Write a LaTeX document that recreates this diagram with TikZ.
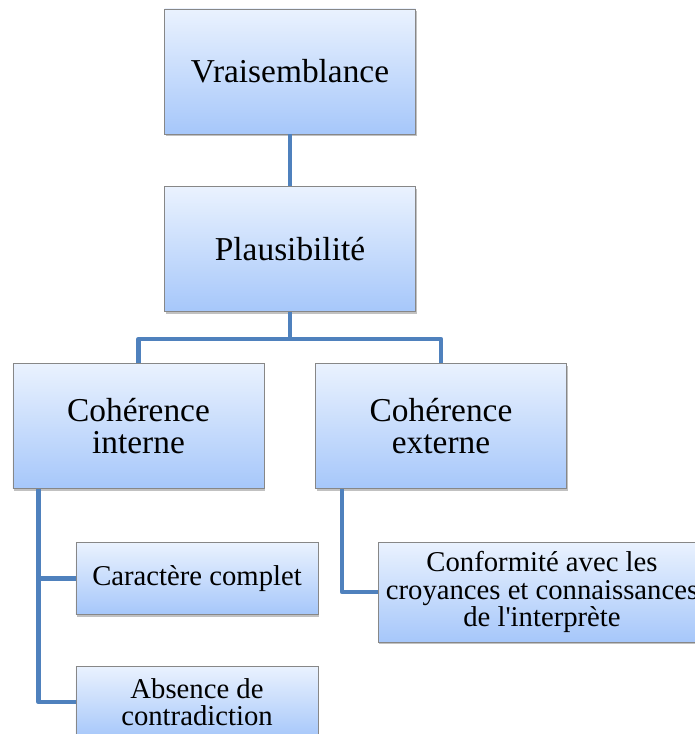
\documentclass[tikz,border=0pt]{standalone}
\usepackage{fontspec}
\setmainfont{Liberation Serif}
\usetikzlibrary{shadows,calc}
\definecolor{boxtop}{RGB}{234,242,254}
\definecolor{boxbot}{RGB}{166,199,250}
\definecolor{boxline}{RGB}{135,135,135}
\definecolor{conn}{RGB}{79,129,189}
\tikzset{
  box/.style={draw=boxline, line width=0.8bp, top color=boxtop, bottom color=boxbot,
    inner sep=0pt, align=center, text=black,
    drop shadow={shadow xshift=1.2bp, shadow yshift=-2.2bp, opacity=0.35, fill=black!70}},
  bigbox/.style={box, minimum width=251bp, minimum height=125bp, font=\fontsize{33.5}{32.5}\selectfont},
  smallbox/.style={box, minimum width=242bp, minimum height=72bp, font=\fontsize{28.8}{27.5}\selectfont},
  wide/.style={box, minimum width=328bp, minimum height=100bp, font=\fontsize{28.8}{27.5}\selectfont},
  link/.style={draw=conn, line width=4.6bp, line join=round}
}
\begin{document}
\begin{tikzpicture}[x=1bp,y=-1bp]
\useasboundingbox (0,0) rectangle (695,734);
\clip (0,0) rectangle (695,734);
\node[bigbox] (v) at (290,71.5) {Vraisemblance};
\node[bigbox] (p) at (290,249) {Plausibilité};
\node[bigbox] (ci) at (138.5,426) {Cohérence\\interne};
\node[bigbox] (ce) at (441,426) {Cohérence\\externe};
\node[smallbox] (cc) at (197,578.5) {Caractère complet};
\node[smallbox] (ab) at (197,702) {Absence de\\contradiction};
\node[wide] (cf) at (542,592) {Conformité avec les\\croyances et connaissances\\de l\textquotesingle interprète};
\coordinate (j) at (290,339);
\draw[link] (v.south) -- (p.north);
\draw[link] (p.south) -- (j);
\draw[link] (ci.north) |- (j) -| (ce.north);
\draw[link] ([xshift=26bp]ci.south west) |- (cc.west);
\draw[link] ([xshift=26bp]ci.south west) |- (ab.west);
\draw[link] ([xshift=27bp]ce.south west) |- (cf.west);
\end{tikzpicture}
\end{document}
